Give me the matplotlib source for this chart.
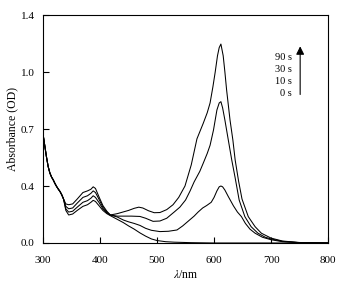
import matplotlib.pyplot as plt
from matplotlib.ticker import FixedLocator

plt.rcParams['font.family'] = ['Liberation Serif', 'DejaVu Serif']
plt.rcParams['mathtext.fontset'] = 'stix'

# shared steep edge below 336 nm
wl_edge = [300, 303, 306, 309, 312, 315, 318, 321, 324, 327, 330, 333, 336]
od_edge = [0.67, 0.60, 0.53, 0.47, 0.43, 0.405, 0.387, 0.365, 0.346, 0.33, 0.315, 0.295, 0.27]

wl_0s = [340, 345, 352, 360, 370, 378, 384, 388, 392, 398, 405, 412, 418, 425, 433,
         441, 450, 460, 470, 480, 490, 500, 515, 530, 560, 600, 650, 800]
od_0s = [0.20, 0.172, 0.178, 0.20, 0.225, 0.235, 0.25, 0.262, 0.255, 0.23, 0.20, 0.18,
         0.168, 0.155, 0.14, 0.125, 0.105, 0.085, 0.062, 0.042, 0.025, 0.015, 0.008,
         0.005, 0.002, 0.0, 0.0, 0.0]

wl_10s = [340, 345, 352, 360, 370, 378, 384, 388, 392, 398, 405, 412, 418, 430, 441,
          450, 460, 470, 480, 490, 505, 520, 535, 545, 555, 565, 572, 580, 587, 595,
          600, 605, 609, 612, 615, 619, 625, 634, 641, 648, 655, 663, 672, 685, 700,
          720, 750, 800]
od_10s = [0.21, 0.19, 0.195, 0.22, 0.25, 0.26, 0.275, 0.29, 0.28, 0.25, 0.21, 0.185,
          0.172, 0.16, 0.141, 0.13, 0.12, 0.108, 0.09, 0.078, 0.07, 0.072, 0.08, 0.105,
          0.135, 0.165, 0.19, 0.215, 0.23, 0.25, 0.28, 0.32, 0.345, 0.35, 0.345, 0.325,
          0.285, 0.228, 0.19, 0.162, 0.12, 0.085, 0.06, 0.035, 0.02, 0.008, 0.002, 0.0]

wl_30s = [340, 345, 352, 360, 370, 378, 384, 388, 392, 398, 405, 412, 418, 430, 440,
          455, 470, 480, 493, 505, 517, 530, 540, 550, 558, 565, 575, 581, 588, 593,
          599, 605, 609, 612, 615, 619, 625, 631, 637, 644, 654, 665, 677, 690, 700,
          720, 750, 800]
od_30s = [0.225, 0.21, 0.215, 0.245, 0.28, 0.29, 0.305, 0.32, 0.31, 0.27, 0.22, 0.19,
          0.172, 0.165, 0.165, 0.165, 0.163, 0.152, 0.133, 0.135, 0.152, 0.19, 0.22,
          0.264, 0.32, 0.375, 0.44, 0.49, 0.55, 0.60, 0.694, 0.817, 0.86, 0.868, 0.83,
          0.755, 0.632, 0.51, 0.40, 0.264, 0.162, 0.10, 0.06, 0.035, 0.025, 0.01,
          0.002, 0.0]

wl_90s = [340, 345, 352, 360, 370, 378, 384, 388, 392, 398, 405, 412, 418, 430, 440,
          450, 460, 468, 475, 485, 495, 505, 517, 528, 538, 549, 560, 570, 581, 588,
          593, 598, 602, 606, 609, 612, 616, 619, 622, 628, 633, 637, 643, 649, 660,
          672, 683, 700, 720, 750, 800]
od_90s = [0.24, 0.235, 0.24, 0.27, 0.31, 0.32, 0.33, 0.345, 0.335, 0.285, 0.23, 0.195,
          0.172, 0.18, 0.19, 0.20, 0.213, 0.22, 0.215, 0.198, 0.186, 0.187, 0.205,
          0.235, 0.28, 0.35, 0.48, 0.64, 0.735, 0.80, 0.86, 0.96, 1.05, 1.15, 1.20,
          1.222, 1.15, 1.05, 0.94, 0.755, 0.632, 0.51, 0.38, 0.27, 0.162, 0.10, 0.06,
          0.03, 0.012, 0.003, 0.0]

times = ['90 s', '30 s', '10 s', '0 s']
y_ticks = [0.0, 0.35, 0.7, 1.05, 1.4]
y_labels = ['0.0', '0.4', '0.7', '1.0', '1.4']
x_ticks = [300, 400, 500, 600, 700, 800]

fig = plt.figure(figsize=(3.4, 2.84), dpi=100)
ax = fig.add_axes([0.1265, 0.1444, 0.8385, 0.8026])

for wl, od in [(wl_0s, od_0s), (wl_10s, od_10s), (wl_30s, od_30s), (wl_90s, od_90s)]:
    ax.plot(wl_edge + wl, od_edge + od, color='black', lw=0.75)

ax.set_xlim(300, 800)
ax.set_ylim(0, 1.4)
ax.xaxis.set_major_locator(FixedLocator(x_ticks))
ax.set_yticks(y_ticks)
ax.set_yticklabels(y_labels)
ax.tick_params(direction='in', length=4, width=0.8, labelsize=8)
ax.tick_params(axis='x', pad=9.5)
ax.tick_params(axis='y', pad=6)
for s in ax.spines.values():
    s.set_linewidth(0.8)

ax.set_xlabel(r'$\lambda$/nm', fontsize=8.5, labelpad=3)
ax.set_ylabel('Absorbance (OD)', fontsize=8.5, labelpad=2)

# time legend with arrow
ax.annotate('', xy=(751, 1.225), xytext=(751, 0.895),
            arrowprops=dict(arrowstyle='-|>', color='black', lw=0.8,
                            mutation_scale=12))
for i, t in enumerate(times):
    ax.text(736, 1.142 - i * 0.074, t, ha='right', va='center', fontsize=7.5)

fig.savefig('out.png', dpi=100)
